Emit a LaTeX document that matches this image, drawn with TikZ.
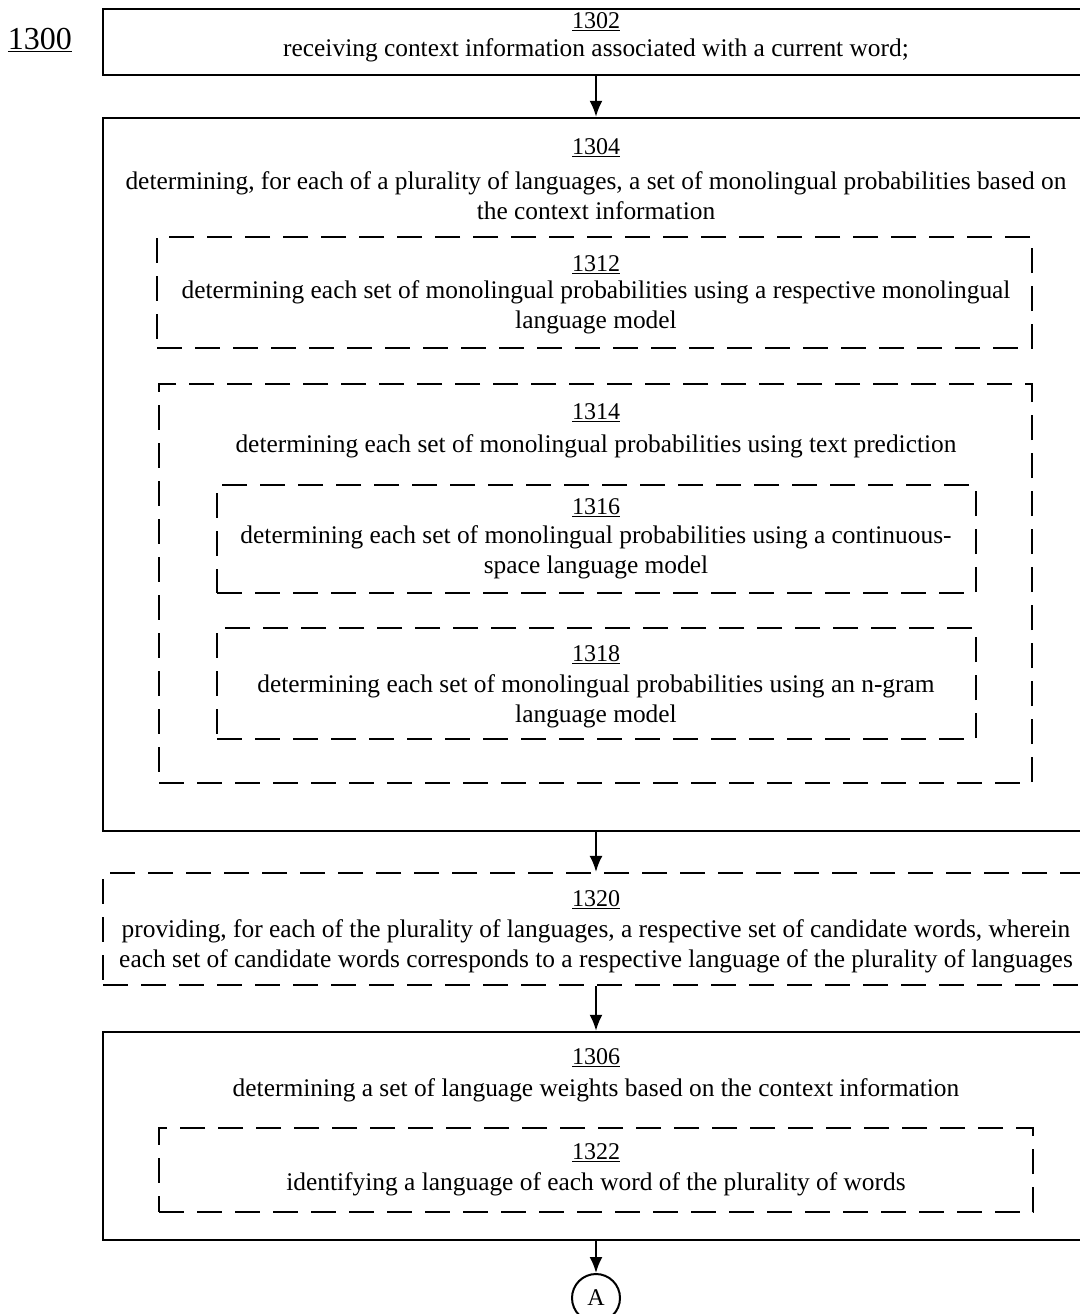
\documentclass[tikz,border=0pt]{standalone}
\usepackage{fontspec}
\setmainfont{Liberation Serif}
\usetikzlibrary{arrows.meta}
\begin{document}
\begin{tikzpicture}[x=1pt,y=-1pt,
  solidbox/.style={draw=black,line width=2.4pt,rectangle,inner sep=0pt},
  dashbox/.style={draw=black,line width=2.2pt,rectangle,inner sep=0pt,dash pattern=on 25pt off 13pt},
  txt/.style={align=center,inner sep=0pt,font=\fontsize{25.4}{30}\selectfont},
  num/.style={inner sep=0pt,font=\fontsize{24}{30}\selectfont},
  arr/.style={line width=2pt,-{Latex[length=16pt,width=13pt]}}]
\useasboundingbox (0,0) rectangle (1079,1314);
% boxes
\node[solidbox,minimum width=986pt,minimum height=66pt] (b1302) at (596,42) {};
\node[solidbox,minimum width=986pt,minimum height=713pt] (b1304) at (596,474.5) {};
\node[dashbox,minimum width=875pt,minimum height=111pt] (b1312) at (594.5,292.5) {};
\node[dashbox,minimum width=873pt,minimum height=399pt] (b1314) at (595.5,583.5) {};
\node[dashbox,minimum width=759pt,minimum height=108pt] (b1316) at (596.5,539) {};
\node[dashbox,minimum width=759pt,minimum height=111pt] (b1318) at (596.5,683.5) {};
\node[dashbox,minimum width=986pt,minimum height=112pt] (b1320) at (596,929) {};
\node[solidbox,minimum width=986pt,minimum height=208pt] (b1306) at (596,1136) {};
\node[dashbox,minimum width=874pt,minimum height=84pt] (b1322) at (596,1170) {};
\node[draw=black,line width=2pt,circle,minimum size=48pt,inner sep=0pt,font=\fontsize{24}{26}\selectfont] (A) at (596,1298) {A};
% label
\node[inner sep=0pt,font=\fontsize{32}{36}\selectfont] (l1300) at (40,40) {\underline{1300}};
% texts
\node[num] (n1302) at (596,22) {\underline{1302}};
\node[txt] (t1302) at (596,50) {receiving context information associated with a current word;};
\node[num] (n1304) at (596,148) {\underline{1304}};
\node[txt] (t1304) at (596,196) {determining, for each of a plurality of languages, a set of monolingual probabilities based on\\the context information};
\node[num] (n1312) at (596,265) {\underline{1312}};
\node[txt] (t1312) at (596,307) {determining each set of monolingual probabilities using a respective monolingual\\language model};
\node[num] (n1314) at (596,413) {\underline{1314}};
\node[txt] (t1314) at (596,446) {determining each set of monolingual probabilities using text prediction};
\node[num] (n1316) at (596,508) {\underline{1316}};
\node[txt] (t1316) at (596,552) {determining each set of monolingual probabilities using a continuous-\\space language model};
\node[num] (n1318) at (596,655) {\underline{1318}};
\node[txt] (t1318) at (596,701) {determining each set of monolingual probabilities using an n-gram\\language model};
\node[num] (n1320) at (596,900) {\underline{1320}};
\node[txt] (t1320) at (596,946) {providing, for each of the plurality of languages, a respective set of candidate words, wherein\\each set of candidate words corresponds to a respective language of the plurality of languages};
\node[num] (n1306) at (596,1058) {\underline{1306}};
\node[txt] (t1306) at (596,1090) {determining a set of language weights based on the context information};
\node[num] (n1322) at (596,1153) {\underline{1322}};
\node[txt] (t1322) at (596,1184) {identifying a language of each word of the plurality of words};
% arrows
\draw[arr] (b1302.south) -- (b1304.north);
\draw[arr] (b1304.south) -- (b1320.north);
\draw[arr] (b1320.south) -- (b1306.north);
\draw[arr] (b1306.south) -- (A.north);
\end{tikzpicture}
\end{document}
